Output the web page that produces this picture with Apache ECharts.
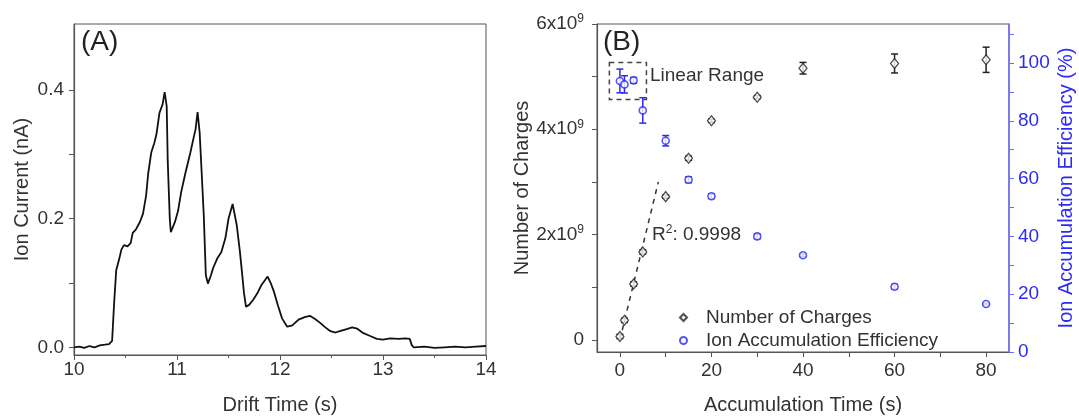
<!DOCTYPE html>
<html>
<head>
<meta charset="utf-8">
<script src="https://cdn.jsdelivr.net/npm/echarts@6/dist/echarts.min.js"></script>
<style>
  html, body { margin: 0; padding: 0; background: #fff; }
  #chart { width: 1079px; height: 420px; }
</style>
</head>
<body>
<div id="chart"></div>
<script>
// (A) ion current trace
const driftTime = [10.0, 10.05, 10.1, 10.15, 10.2, 10.25, 10.3, 10.34, 10.37, 10.39, 10.41, 10.44, 10.46, 10.485, 10.52, 10.55,
    10.57, 10.6, 10.64, 10.67, 10.7, 10.72, 10.75, 10.78, 10.8, 10.83, 10.86, 10.88, 10.9, 10.91, 10.93, 10.94,
    10.98, 11.01, 11.04, 11.08, 11.13, 11.16, 11.18, 11.2, 11.22, 11.24, 11.26, 11.28, 11.3, 11.33, 11.35, 11.39,
    11.43, 11.47, 11.5, 11.54, 11.58, 11.61, 11.63, 11.65, 11.67, 11.7, 11.74, 11.78, 11.82, 11.88, 11.91, 11.94,
    11.98, 12.02, 12.07, 12.12, 12.18, 12.24, 12.29, 12.34, 12.39, 12.44, 12.49, 12.54, 12.58, 12.64, 12.7, 12.75,
    12.81, 12.87, 12.94, 13.0, 13.07, 13.15, 13.22, 13.26, 13.28, 13.3, 13.4, 13.5, 13.6, 13.7, 13.8, 13.9, 14.0]
const ionCurrent = [0.0, 0.001, -0.001, 0.002, 0.0, 0.003, 0.004, 0.005, 0.01, 0.07, 0.12, 0.138, 0.152, 0.159, 0.157, 0.162,
    0.178, 0.183, 0.195, 0.208, 0.236, 0.27, 0.303, 0.318, 0.331, 0.365, 0.378, 0.397, 0.375, 0.29, 0.2, 0.179,
    0.195, 0.212, 0.241, 0.27, 0.303, 0.325, 0.339, 0.366, 0.334, 0.27, 0.205, 0.112, 0.099, 0.112, 0.123, 0.138,
    0.148, 0.17, 0.2, 0.223, 0.19, 0.15, 0.118, 0.085, 0.063, 0.066, 0.074, 0.084, 0.097, 0.11, 0.1, 0.087,
    0.065, 0.045, 0.032, 0.034, 0.043, 0.047, 0.049, 0.044, 0.038, 0.031, 0.025, 0.023, 0.025, 0.028, 0.031, 0.029,
    0.022, 0.018, 0.013, 0.012, 0.014, 0.013, 0.014, 0.013, 0.003, 0.0, 0.001, -0.001, 0.0, 0.001, 0.0, 0.001, 0.002]

// (B) accumulation experiment
const accTime = [0, 1, 3, 5, 10, 15, 20, 30, 40, 60, 80]
const charges = [0.064e9, 0.37e9, 1.06e9, 1.67e9, 2.72e9, 3.45e9, 4.16e9, 4.61e9, 5.16e9, 5.25e9, 5.32e9]
const chargesErr = [0.04e9, 0.04e9, 0.04e9, 0.04e9, 0.03e9, 0.04e9, 0.03e9, 0.03e9, 0.11e9, 0.18e9, 0.24e9]
const efficiency = [93.8, 92.6, 94.0, 83.6, 73.1, 59.6, 53.9, 40.0, 33.5, 22.6, 16.6]
const efficiencyErr = [4.1, 3.0, 1.0, 4.4, 1.8, 1.0, 0.8, 0.8, 0.5, 0.8, 0.3]

// dashed linear fit and the "Linear Range" box
const fitTime = [0, 8.4]
const fitCharges = [0.0, 3.0e9]
const boxTime = [-2.3, 5.8]
const boxEff = [87.4, 100.2]

// tick positions
const aCurrentLabels = [0, 0.2, 0.4]
const aCurrentTicks = [0, 0.1, 0.2, 0.3, 0.4]
const bTimeLabels = [0, 20, 40, 60, 80]
const bTimeTicks = [0, 10, 20, 30, 40, 50, 60, 70, 80]
const bChargeLabels = [0, 2e9, 4e9, 6e9]
const bChargeTicks = [0, 1e9, 2e9, 3e9, 4e9, 5e9, 6e9]
const bEffLabels = [0, 20, 40, 60, 80, 100]
const bEffTicks = [0, 10, 20, 30, 40, 50, 60, 70, 80, 90, 100, 110]

const FONT = 'Liberation Sans'
const GREY = '#555'
const TXT = '#333'
const BLUE = '#2b2bf5'
const BLUE_AXIS = '#6b6bff'
const TICK_FS = 19
const NAME_FS = 20

let chart = echarts.init(document.getElementById('chart'))

function errorBars(color) {
    return function (params, api) {
        let x = api.value(0)
        let top = api.coord([x, api.value(2)])
        let bot = api.coord([x, api.value(1)])
        let w = 3.5
        let style = {stroke: color, lineWidth: 1.5}
        return {
            type: 'group',
            children: [
                {type: 'line', shape: {x1: top[0], y1: top[1], x2: bot[0], y2: bot[1]}, style: style},
                {type: 'line', shape: {x1: top[0] - w, y1: top[1], x2: top[0] + w, y2: top[1]}, style: style},
                {type: 'line', shape: {x1: bot[0] - w, y1: bot[1], x2: bot[0] + w, y2: bot[1]}, style: style}
            ]
        }
    }
}

function sciLabel(v) {
    if (v === 0) return '0'
    return `{m|${Math.round(v / 1e9)}x10}{s|9}`
}

const tickStyle = {show: true, inside: false, length: 5, lineStyle: {color: GREY, width: 1}}

let option = {
    backgroundColor: '#fff',
    textStyle: {fontFamily: FONT},
    animation: false,
    grid: [
        {left: 74, top: 24, width: 412, height: 333, show: true, borderColor: GREY, borderWidth: 1, backgroundColor: 'transparent'},
        {left: 597, top: 24, width: 412, height: 331, show: true, borderColor: GREY, borderWidth: 1, backgroundColor: 'transparent'}
    ],
    legend: {
        left: 674,
        top: 303,
        orient: 'vertical',
        itemWidth: 7,
        itemHeight: 7,
        itemGap: 4,
        textStyle: {fontFamily: FONT, fontSize: 19, color: TXT, padding: [0, 0, 0, 14], lineHeight: 19},
        data: ['Number of Charges', 'Ion Accumulation Efficiency']
    },
    xAxis: [
        {
            gridIndex: 0, type: 'value', min: 10, max: 14, interval: 1,
            name: 'Drift Time (s)', nameLocation: 'middle', nameGap: 40,
            nameTextStyle: {fontSize: NAME_FS, color: TXT, fontFamily: FONT},
            axisLine: {onZero: false, lineStyle: {color: GREY, width: 1.2}},
            axisTick: tickStyle,
            minorTick: {show: true, splitNumber: 2, length: 3, lineStyle: {color: GREY}},
            axisLabel: {fontSize: TICK_FS, color: TXT, margin: 5},
            splitLine: {show: false}
        },
        {
            gridIndex: 1, type: 'value', min: -5, max: 85,
            name: 'Accumulation Time (s)', nameLocation: 'middle', nameGap: 43,
            nameTextStyle: {fontSize: NAME_FS, color: TXT, fontFamily: FONT},
            axisLine: {onZero: false, lineStyle: {color: GREY, width: 1.2}},
            axisTick: Object.assign({}, tickStyle, {customValues: bTimeTicks}),
            axisLabel: {fontSize: TICK_FS, color: TXT, margin: 9, customValues: bTimeLabels},
            splitLine: {show: false}
        }
    ],
    yAxis: [
        {
            gridIndex: 0, type: 'value', min: -0.012, max: 0.503,
            name: 'Ion Current (nA)', nameLocation: 'middle', nameGap: 42,
            nameTextStyle: {fontSize: NAME_FS, color: TXT, fontFamily: FONT},
            axisLine: {show: true, onZero: false, lineStyle: {color: GREY, width: 1.2}},
            axisTick: Object.assign({}, tickStyle, {customValues: aCurrentTicks}),
            axisLabel: {fontSize: TICK_FS, color: TXT, margin: 10, customValues: aCurrentLabels,
                formatter: v => v.toFixed(1)},
            splitLine: {show: false}
        },
        {
            gridIndex: 1, type: 'value', min: -0.232e9, max: 6.0e9,
            name: 'Number of Charges', nameLocation: 'middle', nameGap: 65,
            nameTextStyle: {fontSize: NAME_FS, color: TXT, fontFamily: FONT},
            axisLine: {show: true, onZero: false, lineStyle: {color: GREY, width: 1.2}},
            axisTick: Object.assign({}, tickStyle, {customValues: bChargeTicks}),
            axisLabel: {
                fontSize: TICK_FS, color: TXT, margin: 13, customValues: bChargeLabels,
                formatter: sciLabel,
                rich: {
                    m: {fontSize: TICK_FS, color: TXT, fontFamily: FONT},
                    s: {fontSize: 12, color: TXT, fontFamily: FONT, verticalAlign: 'top', padding: [0, 0, 10, 0]}
                }
            },
            splitLine: {show: false}
        },
        {
            gridIndex: 1, type: 'value', position: 'right', min: 0, max: 113.5,
            name: 'Ion Accumulation Efficiency (%)', nameLocation: 'middle', nameGap: 47,
            nameRotate: 90,
            nameTextStyle: {fontSize: NAME_FS, color: BLUE, fontFamily: FONT},
            axisLine: {show: true, onZero: false, lineStyle: {color: BLUE_AXIS, width: 1.5}},
            axisTick: {show: true, length: 5, customValues: bEffTicks, lineStyle: {color: BLUE_AXIS}},
            axisLabel: {fontSize: TICK_FS, color: BLUE, margin: 9, customValues: bEffLabels},
            splitLine: {show: false}
        }
    ],
    graphic: [
        {type: 'text', left: 81, top: 28, style: {text: '(A)', fontSize: 28, fill: '#222', fontFamily: FONT}},
        {type: 'text', left: 603, top: 28, style: {text: '(B)', fontSize: 28, fill: '#222', fontFamily: FONT}},
        {type: 'text', left: 650, top: 66, style: {text: 'Linear Range', fontSize: 19, fill: TXT, fontFamily: FONT}},
        {
            type: 'text', left: 652, top: 224,
            style: {
                text: '{a|R}{s|2}{a|: 0.9998}',
                rich: {
                    a: {fontSize: 19, fill: TXT, fontFamily: FONT},
                    s: {fontSize: 12, fill: TXT, fontFamily: FONT, verticalAlign: 'top', padding: [0, 0, 9, 0]}
                }
            }
        }
    ],
    series: [
        {
            name: 'trace', type: 'line', xAxisIndex: 0, yAxisIndex: 0,
            data: driftTime.map((t, i) => [t, ionCurrent[i]]),
            showSymbol: false, symbol: 'none',
            lineStyle: {color: '#111', width: 1.8}
        },
        {
            name: 'fit', type: 'line', xAxisIndex: 1, yAxisIndex: 1,
            data: fitTime.map((t, i) => [t, fitCharges[i]]),
            showSymbol: false, symbol: 'none',
            lineStyle: {color: '#333', width: 1.5, type: [5, 5]}
        },
        {
            name: 'chargesErr', type: 'custom', xAxisIndex: 1, yAxisIndex: 1,
            renderItem: errorBars('#222'),
            encode: {x: 0, y: [1, 2]},
            data: accTime.map((t, i) => [t, charges[i] - chargesErr[i], charges[i] + chargesErr[i]]),
            z: 3
        },
        {
            name: 'effErr', type: 'custom', xAxisIndex: 1, yAxisIndex: 2,
            renderItem: errorBars(BLUE),
            encode: {x: 0, y: [1, 2]},
            data: accTime.map((t, i) => [t, efficiency[i] - efficiencyErr[i], efficiency[i] + efficiencyErr[i]]),
            z: 3
        },
        {
            name: 'Number of Charges', type: 'scatter', xAxisIndex: 1, yAxisIndex: 1,
            data: accTime.map((t, i) => [t, charges[i]]),
            symbol: 'diamond', symbolSize: [8, 10],
            itemStyle: {color: '#fff', borderColor: '#222', borderWidth: 1.3},
            z: 4
        },
        {
            name: 'Ion Accumulation Efficiency', type: 'scatter', xAxisIndex: 1, yAxisIndex: 2,
            data: accTime.map((t, i) => [t, efficiency[i]]),
            symbol: 'circle', symbolSize: 7,
            itemStyle: {color: '#fff', borderColor: BLUE, borderWidth: 1.6},
            z: 4,
            markArea: {
                silent: true,
                itemStyle: {color: 'transparent', borderColor: '#444', borderWidth: 1.5, borderType: [5, 4]},
                data: [[{coord: [boxTime[0], boxEff[1]]}, {coord: [boxTime[1], boxEff[0]]}]]
            }
        }
    ]
}

chart.setOption(option)
</script>
</body>
</html>
